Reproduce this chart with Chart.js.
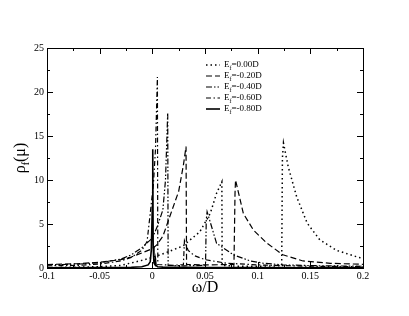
<!DOCTYPE html>
<html>
<head>
<meta charset="utf-8">
<script src="https://cdn.jsdelivr.net/npm/chart.js@4.4.1/dist/chart.umd.min.js"></script>
<style>
  html, body { margin: 0; padding: 0; background: #fff; }
</style>
</head>
<body>
<canvas id="grafico" width="409" height="316"></canvas>
<script>
// valores (omega/D, rho_f)
const omegaE000 = [-0.1, -0.07, -0.05, -0.03, -0.012, 0, 0.012, 0.029, 0.045, 0.055, 0.061, 0.066, 0.0663, 0.08, 0.1, 0.1228, 0.1235, 0.1245, 0.129, 0.137, 0.147, 0.159, 0.175, 0.196, 0.2];
const rhoE000   = [0.05, 0.1, 0.15, 0.3, 0.8, 1.2, 1.7, 2.5, 4.1, 6.2, 8.5, 9.8, 0.3, 0.2, 0.2, 0.25, 12.5, 14.2, 11.5, 8.1, 5.1, 3.2, 2.0, 1.2, 1.1];

const omegaE020 = [-0.1, -0.07, -0.05, -0.03, -0.02, -0.01, 0, 0.004, 0.01, 0.017, 0.025, 0.0295, 0.032, 0.0325, 0.05, 0.0775, 0.0785, 0.079, 0.0864, 0.096, 0.109, 0.124, 0.143, 0.169, 0.2];
const rhoE020   = [0.4, 0.5, 0.65, 0.95, 1.25, 1.7, 2.2, 2.6, 3.6, 6.0, 8.7, 11.7, 13.8, 0.4, 0.35, 0.4, 8.5, 10.0, 6.2, 4.3, 2.8, 1.5, 0.8, 0.53, 0.42];

const omegaE040 = [-0.1, -0.07, -0.05, -0.03, -0.02, -0.01, 0, 0.005, 0.01, 0.0125, 0.0146, 0.015, 0.03, 0.0505, 0.0512, 0.052, 0.061, 0.077, 0.093, 0.105, 0.124, 0.16, 0.2];
const rhoE040   = [0.35, 0.45, 0.6, 1.0, 1.5, 2.3, 3.4, 4.8, 6.6, 10.0, 17.6, 0.3, 0.25, 0.3, 5.5, 6.4, 2.8, 1.5, 0.8, 0.55, 0.35, 0.25, 0.2];

const omegaE060 = [-0.1, -0.07, -0.05, -0.03, -0.02, -0.01, -0.005, -0.002, 0.001, 0.003, 0.0048, 0.0052, 0.02, 0.0295, 0.0305, 0.034, 0.04, 0.05, 0.07, 0.1, 0.15, 0.2];
const rhoE060   = [0.25, 0.3, 0.45, 0.8, 1.2, 2.0, 3.0, 6.2, 9.5, 13.5, 21.7, 0.4, 0.3, 0.4, 3.1, 2.0, 1.4, 0.95, 0.55, 0.35, 0.2, 0.15];

const omegaE080 = [-0.1, -0.05, -0.02, -0.01, -0.004, -0.002, -0.001, 0, 0.0004, 0.0008, 0.0015, 0.0025, 0.003, 0.0035, 0.005, 0.01, 0.05, 0.1, 0.2];
const rhoE080   = [0.03, 0.05, 0.08, 0.15, 0.35, 0.7, 2.0, 7.0, 13.5, 2.5, 0.6, 0.4, 0.9, 0.3, 0.15, 0.1, 0.05, 0.04, 0.03];

const rotulosEf = ['=0.00D', '=-0.20D', '=-0.40D', '=-0.60D', '=-0.80D'];

const divisoesX = [-0.1, -0.075, -0.05, -0.025, 0, 0.025, 0.05, 0.075, 0.1, 0.125, 0.15, 0.175, 0.2];
const divisoesY = [0, 2.5, 5, 7.5, 10, 12.5, 15, 17.5, 20, 22.5, 25];

const fonteSerif = '"Liberation Serif", "DejaVu Serif", serif';

function montarPontos(omega, rho) {
    return omega.map((w, i) => ({ x: w, y: rho[i] }));
}

const estilos = [
    { dash: [1.5, 3], largura: 1.5 },
    { dash: [6, 3], largura: 1.2 },
    { dash: [6, 2, 1.5, 2, 1.5, 2], largura: 1.2 },
    { dash: [5, 2.5, 1.5, 2.5], largura: 1.2 },
    { dash: [], largura: 1.6 }
];

const series = [
    montarPontos(omegaE000, rhoE000),
    montarPontos(omegaE020, rhoE020),
    montarPontos(omegaE040, rhoE040),
    montarPontos(omegaE060, rhoE060),
    montarPontos(omegaE080, rhoE080)
];

const desenhoExtra = {
    id: 'desenhoExtra',
    afterDraw(chart) {
        const ctx = chart.ctx;
        const area = chart.chartArea;
        const sx = chart.scales.x;
        const sy = chart.scales.y;
        ctx.save();
        ctx.strokeStyle = '#000';
        ctx.lineWidth = 1;
        ctx.setLineDash([]);
        ctx.strokeRect(area.left + 0.5, area.top + 0.5, area.right - area.left, area.bottom - area.top);

        // marcas para dentro, nos quatro lados
        divisoesX.forEach((v, i) => {
            const px = Math.round(sx.getPixelForValue(v)) + 0.5;
            const tam = i % 2 === 0 ? 6 : 3;
            ctx.beginPath();
            ctx.moveTo(px, area.bottom); ctx.lineTo(px, area.bottom - tam);
            ctx.moveTo(px, area.top); ctx.lineTo(px, area.top + tam);
            ctx.stroke();
        });
        divisoesY.forEach((v, i) => {
            const py = Math.round(sy.getPixelForValue(v)) + 0.5;
            const tam = i % 2 === 0 ? 6 : 3;
            ctx.beginPath();
            ctx.moveTo(area.left, py); ctx.lineTo(area.left + tam, py);
            ctx.moveTo(area.right, py); ctx.lineTo(area.right - tam, py);
            ctx.stroke();
        });

        // titulo do eixo x
        ctx.fillStyle = '#000';
        ctx.textBaseline = 'middle';
        ctx.textAlign = 'center';
        ctx.font = '16px ' + fonteSerif;
        ctx.fillText('\u03c9/D', (area.left + area.right) / 2, area.bottom + 20);

        // titulo do eixo y com subscrito
        ctx.save();
        ctx.translate(20, (area.top + area.bottom) / 2);
        ctx.rotate(-Math.PI / 2);
        ctx.textAlign = 'left';
        ctx.textBaseline = 'alphabetic';
        ctx.font = '16px ' + fonteSerif;
        const w1 = ctx.measureText('\u03c1').width;
        ctx.font = '10px ' + fonteSerif;
        const w2 = ctx.measureText('f').width;
        ctx.font = '16px ' + fonteSerif;
        const w3 = ctx.measureText('(\u03bc)').width;
        let x0 = -(w1 + w2 + w3) / 2;
        ctx.fillText('\u03c1', x0, 5);
        ctx.font = '10px ' + fonteSerif;
        ctx.fillText('f', x0 + w1, 9);
        ctx.font = '16px ' + fonteSerif;
        ctx.fillText('(\u03bc)', x0 + w1 + w2, 5);
        ctx.restore();

        // legenda
        rotulosEf.forEach((rot, i) => {
            const yl = 65 + i * 11;
            ctx.setLineDash(estilos[i].dash);
            ctx.lineWidth = estilos[i].largura;
            ctx.beginPath();
            ctx.moveTo(206, yl); ctx.lineTo(220, yl);
            ctx.stroke();
            ctx.setLineDash([]);
            ctx.textAlign = 'left';
            ctx.textBaseline = 'middle';
            ctx.font = '9px ' + fonteSerif;
            ctx.fillText('E', 224, yl);
            const we = ctx.measureText('E').width;
            ctx.font = '6px ' + fonteSerif;
            ctx.fillText('f', 224 + we, yl + 3);
            const wf = ctx.measureText('f').width;
            ctx.font = '9px ' + fonteSerif;
            ctx.fillText(rot, 224 + we + wf, yl);
        });
        ctx.restore();
    }
};

const canvas = document.getElementById('grafico');
const ctx = canvas.getContext('2d');
window.graficoRho = new Chart(ctx, {
    type: 'scatter',
    data: {
        datasets: series.map((pts, i) => ({
            label: 'E_f' + rotulosEf[i],
            data: pts,
            showLine: true,
            borderColor: '#000',
            backgroundColor: '#000',
            borderWidth: estilos[i].largura,
            borderDash: estilos[i].dash,
            pointRadius: 0,
            tension: 0,
            fill: false
        }))
    },
    options: {
        responsive: false,
        animation: false,
        devicePixelRatio: 1,
        layout: { padding: { top: 48, right: 46, left: 0, bottom: 0 } },
        plugins: {
            legend: { display: false },
            tooltip: { enabled: false }
        },
        scales: {
            x: {
                type: 'linear',
                min: -0.1,
                max: 0.2,
                grid: { display: false, drawTicks: false },
                border: { display: false },
                ticks: {
                    stepSize: 0.05,
                    color: '#000',
                    padding: 2,
                    maxRotation: 0,
                    font: { family: fonteSerif, size: 10 },
                    callback: (v) => String(Number(v.toFixed(2)))
                },
                afterFit(scale) { scale.height = 48; }
            },
            y: {
                type: 'linear',
                min: 0,
                max: 25,
                grid: { display: false, drawTicks: false },
                border: { display: false },
                ticks: {
                    stepSize: 5,
                    color: '#000',
                    padding: 3,
                    font: { family: fonteSerif, size: 10 }
                },
                afterFit(scale) { scale.width = 47; }
            }
        }
    },
    plugins: [desenhoExtra]
});
</script>
</body>
</html>
